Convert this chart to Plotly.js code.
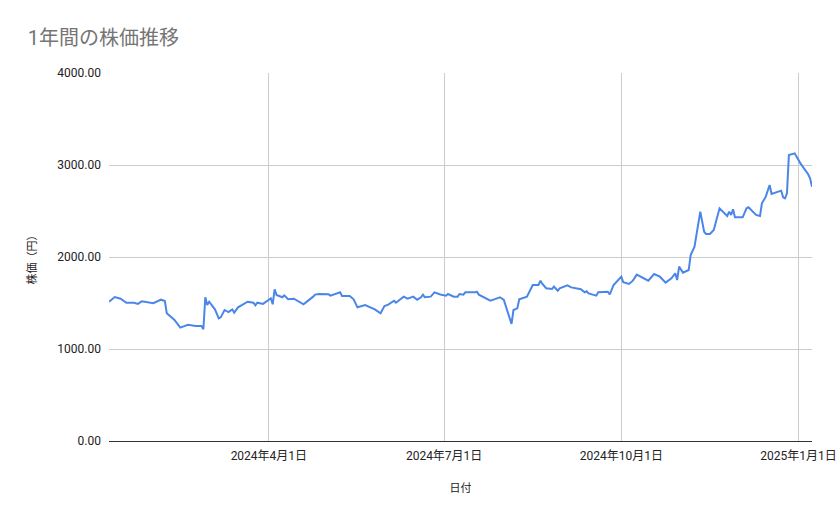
<!DOCTYPE html>
<html>
<head>
<meta charset="utf-8">
<script src="https://cdn.plot.ly/plotly-3.0.1.min.js"></script>
<style>
  html, body { margin: 0; padding: 0; background: #fff; }
  #chart { width: 839px; height: 519px; }
</style>
</head>
<body>
<div id="chart"></div>
<script>
// 日付と終値（画像から読み取った概算値）
var dates = [
  '2024-01-09', '2024-01-12', '2024-01-15', '2024-01-18', '2024-01-22', '2024-01-24', '2024-01-26',
  '2024-02-01', '2024-02-05', '2024-02-07', '2024-02-08', '2024-02-09', '2024-02-12', '2024-02-15',
  '2024-02-19', '2024-02-23', '2024-02-26', '2024-02-27', '2024-02-28', '2024-02-29', '2024-03-01',
  '2024-03-04', '2024-03-06', '2024-03-07', '2024-03-09', '2024-03-11', '2024-03-13', '2024-03-14',
  '2024-03-16', '2024-03-21', '2024-03-24', '2024-03-25', '2024-03-26', '2024-03-29', '2024-04-01',
  '2024-04-02', '2024-04-03', '2024-04-04', '2024-04-05', '2024-04-08', '2024-04-09', '2024-04-11',
  '2024-04-14', '2024-04-16', '2024-04-18', '2024-04-19', '2024-04-24', '2024-04-25', '2024-04-27',
  '2024-05-02', '2024-05-03', '2024-05-08', '2024-05-09', '2024-05-13', '2024-05-15', '2024-05-17',
  '2024-05-21', '2024-05-26', '2024-05-29', '2024-05-31', '2024-06-02', '2024-06-05', '2024-06-06',
  '2024-06-10', '2024-06-12', '2024-06-15', '2024-06-17', '2024-06-19', '2024-06-20', '2024-06-21',
  '2024-06-24', '2024-06-26', '2024-06-29', '2024-07-02', '2024-07-03', '2024-07-06', '2024-07-08',
  '2024-07-09', '2024-07-11', '2024-07-12', '2024-07-17', '2024-07-18', '2024-07-19', '2024-07-25',
  '2024-07-27', '2024-07-30', '2024-08-01', '2024-08-03', '2024-08-05', '2024-08-06', '2024-08-08',
  '2024-08-09', '2024-08-13', '2024-08-16', '2024-08-19', '2024-08-20', '2024-08-21', '2024-08-23',
  '2024-08-26', '2024-08-27', '2024-08-29', '2024-08-30', '2024-09-03', '2024-09-05', '2024-09-07',
  '2024-09-10', '2024-09-12', '2024-09-13', '2024-09-14', '2024-09-18', '2024-09-19', '2024-09-24',
  '2024-09-25', '2024-09-27', '2024-10-01', '2024-10-02', '2024-10-05', '2024-10-07', '2024-10-09',
  '2024-10-12', '2024-10-15', '2024-10-18', '2024-10-21', '2024-10-24', '2024-10-27', '2024-10-29',
  '2024-10-30', '2024-10-31', '2024-11-02', '2024-11-05', '2024-11-06', '2024-11-08', '2024-11-11',
  '2024-11-13', '2024-11-14', '2024-11-16', '2024-11-18', '2024-11-21', '2024-11-25', '2024-11-26',
  '2024-11-27', '2024-11-28', '2024-11-29', '2024-12-03', '2024-12-05', '2024-12-06', '2024-12-10',
  '2024-12-12', '2024-12-13', '2024-12-15', '2024-12-17', '2024-12-18', '2024-12-23', '2024-12-24',
  '2024-12-25', '2024-12-26', '2024-12-27', '2024-12-30', '2025-01-02', '2025-01-06', '2025-01-07',
  '2025-01-08'
];
var prices = [
  1514, 1565, 1547, 1503, 1503, 1490, 1518,
  1497, 1536, 1522, 1388, 1370, 1315, 1232,
  1264, 1250, 1250, 1214, 1562, 1478, 1514,
  1431, 1333, 1344, 1424, 1402, 1431, 1395,
  1453, 1514, 1503, 1475, 1503, 1490, 1540,
  1551, 1486, 1649, 1587, 1562, 1583, 1540,
  1547, 1525, 1503, 1486, 1569, 1591, 1598,
  1594, 1580, 1616, 1576, 1576, 1540, 1453,
  1478, 1431, 1388, 1467, 1482, 1525, 1503,
  1569, 1547, 1569, 1536, 1562, 1591, 1562,
  1569, 1616, 1592, 1580, 1598, 1569, 1569,
  1598, 1591, 1616, 1616, 1623, 1591, 1525,
  1540, 1562, 1533, 1406, 1272, 1424, 1442,
  1540, 1569, 1696, 1696, 1743, 1707, 1660,
  1652, 1678, 1634, 1660, 1692, 1670, 1660,
  1649, 1616, 1627, 1605, 1580, 1616, 1623,
  1594, 1696, 1786, 1725, 1707, 1743, 1808,
  1779, 1743, 1815, 1786, 1721, 1768, 1822,
  1750, 1895, 1830, 1859, 2022, 2112, 2493,
  2275, 2250, 2250, 2293, 2529, 2446, 2493,
  2457, 2518, 2431, 2431, 2529, 2540, 2457,
  2446, 2583, 2656, 2783, 2685, 2721, 2649,
  2638, 2692, 3109, 3127, 3018, 2899, 2855,
  2764
];

var yTicks = [0, 1000, 2000, 3000, 4000];

var font = '"Roboto", "Noto Sans CJK JP", sans-serif';

var trace = {
  x: dates,
  y: prices,
  type: 'scatter',
  mode: 'lines',
  line: { color: '#4a86e8', width: 2 },
  hoverinfo: 'x+y'
};

var layout = {
  width: 839,
  height: 519,
  paper_bgcolor: '#ffffff',
  plot_bgcolor: '#ffffff',
  font: { family: font, size: 11, color: '#222222' },
  title: {
    text: '1年間の株価推移',
    x: 0.033,
    xanchor: 'left',
    y: 0.927,
    yanchor: 'middle',
    font: { family: font, size: 20, color: '#757575' }
  },
  margin: { l: 109, r: 27, t: 73, b: 78 },
  showlegend: false,
  xaxis: {
    type: 'date',
    autorange: false,
    range: ['2024-01-09', '2025-01-08'],
    tick0: '2024-01-01',
    dtick: 'M3',
    tickformat: '%Y年%-m月%-d日',
    showgrid: true,
    gridcolor: '#cccccc',
    gridwidth: 1,
    showline: true,
    linecolor: '#333333',
    linewidth: 1,
    ticks: '',
    ticklabelstandoff: 4,
    tickfont: { family: font, size: 12, color: '#222222' },
    title: { text: '日付', standoff: 21, font: { family: font, size: 11, color: '#222222' } }
  },
  yaxis: {
    range: [0, 4000],
    tickvals: yTicks,
    tickformat: '.2f',
    showgrid: true,
    gridcolor: '#cccccc',
    gridwidth: 1,
    zeroline: false,
    ticks: '',
    ticklabelstandoff: 7,
    tickfont: { family: font, size: 12, color: '#222222' },
    title: { text: '株価（円）', standoff: 18, font: { family: font, size: 11, color: '#222222' } }
  }
};

Plotly.newPlot('chart', [trace], layout, { displayModeBar: false, staticPlot: true });
</script>
</body>
</html>
